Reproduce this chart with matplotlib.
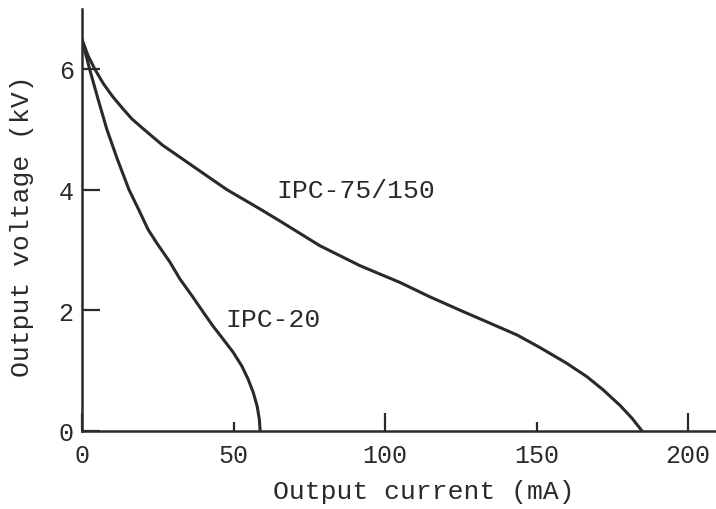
"""Output voltage vs output current for IPC power supplies"""
import matplotlib
matplotlib.use("Agg")
import matplotlib.pyplot as plt

plt.rcParams['font.family'] = ['Liberation Mono', 'DejaVu Sans Mono']

# IPC-20 curve (mA, kV)
ipc20_i = [0, 2.5, 5.3, 8.2, 11.7, 15.5, 18.6, 21.8, 24.6, 29.0, 32.3,
           36.3, 40.0, 43.2, 46.6, 49.8, 52.7, 54.8, 56.5, 57.8, 58.5, 58.8]
ipc20_v = [6.49, 6.0, 5.5, 5.0, 4.5, 4.0, 3.68, 3.34, 3.12, 2.8, 2.52,
           2.24, 1.97, 1.74, 1.52, 1.31, 1.08, 0.86, 0.64, 0.41, 0.2, 0.0]

# IPC-75/150 curve (mA, kV)
ipc75_i = [0, 2.0, 4.2, 7.0, 10.0, 13.5, 16.5, 20.4, 26.5, 33.4, 40.0, 47.8, 58.7,
           65.3, 78.5, 91.7, 105, 114.5, 124.8, 134, 143.6, 151.2, 160, 166.6,
           172, 177.6, 181.5, 184.8]
ipc75_v = [6.49, 6.22, 6.0, 5.76, 5.55, 5.34, 5.17, 5.0, 4.74, 4.5, 4.27, 4.0, 3.68,
           3.48, 3.07, 2.74, 2.46, 2.23, 2.0, 1.80, 1.59, 1.38, 1.12, 0.9,
           0.68, 0.42, 0.21, 0.0]

x_major = [0, 100, 200]
x_minor = [50, 150]
y_ticks = [0, 2, 4, 6]

fig = plt.figure(figsize=(7.16, 5.10), dpi=100)
ax = fig.add_axes([0.1145, 0.153, 0.8855, 0.827])

ax.plot(ipc20_i, ipc20_v, color='#2a2a2a', lw=2.2, solid_capstyle='round',
        solid_joinstyle='round')
ax.plot(ipc75_i, ipc75_v, color='#2a2a2a', lw=2.2, solid_capstyle='round',
        solid_joinstyle='round')

ax.set_xlim(0, 209.2)
ax.set_ylim(0, 6.99)

for side in ['top', 'right']:
    ax.spines[side].set_visible(False)
for side in ['left', 'bottom']:
    ax.spines[side].set_linewidth(1.8)
    ax.spines[side].set_color('#2a2a2a')

ax.set_xticks(x_major)
ax.set_xticks(x_minor, minor=True)
ax.set_xticklabels([str(t) for t in x_major])
ax.set_xticklabels([str(t) for t in x_minor], minor=True)
ax.set_yticks(y_ticks)
ax.set_yticklabels([str(t) for t in y_ticks])

ax.tick_params(axis='x', which='major', direction='in', length=13, width=1.6,
               pad=9, labelsize=18, colors='#2a2a2a')
ax.tick_params(axis='x', which='minor', direction='in', length=6.5, width=1.6,
               pad=9, labelsize=18, colors='#2a2a2a')
ax.tick_params(axis='y', direction='in', length=13, width=1.6,
               pad=6, labelsize=18, colors='#2a2a2a')

ax.set_xlabel('Output current (mA)', fontsize=19, color='#2a2a2a')
ax.set_ylabel('Output voltage (kV)', fontsize=19, color='#2a2a2a')
ax.xaxis.set_label_coords((424 - 82) / 634, -0.115)
ax.yaxis.set_label_coords((34 - 82) / 634, (432 - 226) / 422)

ax.text(64, 4.0, 'IPC-75/150', fontsize=19, color='#2a2a2a', va='center', ha='left')
ax.text(47.2, 1.85, 'IPC-20', fontsize=19, color='#2a2a2a', va='center', ha='left')

fig.savefig('out.png', dpi=100)
